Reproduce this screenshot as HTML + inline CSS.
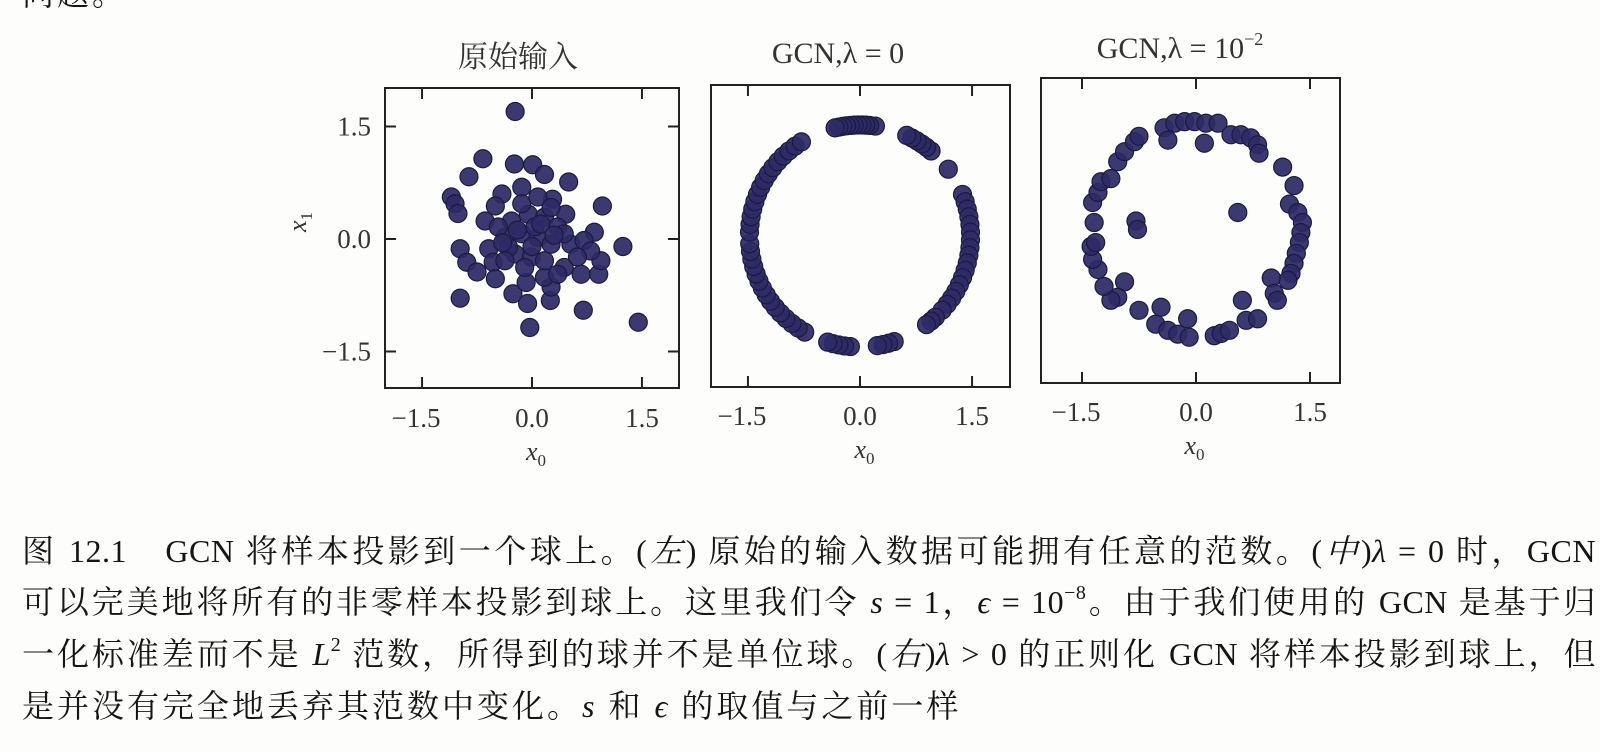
<!DOCTYPE html>
<html><head><meta charset="utf-8">
<style>
html,body{margin:0;padding:0;background:#fff;}
#wrap{position:relative;width:1600px;height:752px;overflow:hidden;background:#fdfdfc;}
svg{position:absolute;left:0;top:0;}
.cap{position:absolute;left:22px;width:1574px;font-family:"Liberation Serif","Noto Serif CJK SC",serif;font-size:32px;letter-spacing:3px;color:#151515;white-space:nowrap;line-height:40px;height:40px;}
.j{text-align:justify;text-align-last:justify;white-space:normal;letter-spacing:0.5px;}
i{font-style:italic;}
sup{font-size:20px;line-height:0;vertical-align:14px;}
</style></head>
<body>
<div id="wrap">
<div class="cap" style="top:-26px;">问题。</div>
<svg id="chart" width="1600" height="752"></svg>
<div class="cap j" style="top:531px;">图 12.1　GCN 将样本投影到一个球上。(<i>左</i>) 原始的输入数据可能拥有任意的范数。(<i>中</i>)<i>λ</i> = 0 时，GCN</div>
<div class="cap j" style="top:582px;">可以完美地将所有的非零样本投影到球上。这里我们令 <i>s</i> = 1，<i>ϵ</i> = 10<sup>−8</sup>。由于我们使用的 GCN 是基于归</div>
<div class="cap j" style="top:634px;">一化标准差而不是 <i>L</i><sup>2</sup> 范数，所得到的球并不是单位球。(<i>右</i>)<i>λ</i> &gt; 0 的正则化 GCN 将样本投影到球上，但</div>
<div class="cap" style="top:686px;">是并没有完全地丢弃其范数中变化。<i>s</i> 和 <i>ϵ</i> 的取值与之前一样</div>
</div>
<script>
// Panel 1: raw input (x0, x1)
const rawX = [-0.23,-0.67,-0.86,-1.10,-1.05,-1.01,-0.24,0.01,0.17,-0.14,0.50,0.96,-0.41,-0.50,-0.64,0.28,0.46,0.85,1.24,-0.98,-0.89,-0.75,-0.59,-0.53,-0.50,-0.26,-0.06,-0.03,-0.98,0.25,0.26,0.17,-0.08,0.44,0.67,0.91,0.94,0.70,1.45,-0.28,-0.05,0.17,0.35,-0.37,-0.14,0.08,0.26,0.53,0.71,0.80,0.62,-0.23,-0.01,-0.10,0.17,-0.32,-0.46,0.04,-0.14,0.08,0.26,0.44,-0.37,0.35,-0.20,0.12,0.30,-0.40,0.00];
const rawY = [1.70,1.07,0.83,0.56,0.47,0.34,1.00,0.99,0.86,0.69,0.76,0.44,0.60,0.44,0.24,0.53,0.33,0.09,-0.10,-0.13,-0.31,-0.44,-0.13,-0.31,-0.53,-0.73,-0.86,-1.18,-0.79,-0.82,-0.64,-0.51,-0.58,-0.38,-0.47,-0.47,-0.29,-0.95,-1.11,0.24,0.33,0.29,0.16,0.02,0.07,0.02,-0.07,-0.07,-0.02,-0.16,-0.24,-0.20,-0.24,-0.38,-0.29,-0.11,0.16,0.16,0.47,0.56,0.42,0.07,-0.29,-0.47,0.12,0.20,0.05,-0.05,-0.10];
// Panel 2: GCN lambda=0, points on sphere (angles in degrees)
const gcnAngles = [82,85,87,89,91,93,95,97,99,101,103,50,53,56,59,62,65,37,22,18,14,10,6,2,-2,-6,-10,-14,-18,-22,-26,-30,-34,-38,-42,-47,-50,-53,-72,-75,-78,-81,-95,-98,-101,-104,-107,-120,-124,-128,-132,-136,-140,-144,-148,-152,-156,-160,-164,-168,-172,-176,178,174,170,166,162,158,154,150,146,142,138,134,130,126,122];
const gcnRadius = 1.48;
// Panel 3: GCN lambda=1e-2
const regX = [-0.42,-0.28,-0.15,-0.02,0.13,0.29,-0.37,0.11,0.46,0.59,0.72,0.81,0.83,1.14,1.29,1.23,1.34,1.40,1.38,1.36,1.32,1.29,1.25,1.21,0.99,1.03,1.07,0.61,0.66,0.81,0.24,0.33,0.44,-0.46,-0.53,-0.37,-0.24,-0.09,-0.11,-0.75,-0.94,-1.03,-1.12,-1.21,-1.29,-1.36,-1.38,-1.32,-1.34,-1.36,-1.29,-1.25,-1.12,-1.03,-0.94,-0.81,-0.75,-0.79,-0.77,0.55];
const regY = [1.34,1.40,1.42,1.42,1.40,1.40,1.18,1.14,1.25,1.25,1.21,1.12,1.01,0.83,0.59,0.35,0.24,0.11,-0.02,-0.15,-0.29,-0.42,-0.55,-0.64,-0.61,-0.81,-0.90,-0.90,-1.16,-1.14,-1.36,-1.33,-1.29,-0.99,-1.21,-1.29,-1.34,-1.38,-1.14,-1.03,-0.66,-0.86,-0.90,-0.72,-0.50,-0.37,-0.20,-0.15,0.11,0.37,0.50,0.64,0.68,0.90,1.03,1.16,1.23,0.13,0.02,0.24];
const tickVals = [-1.5, 0, 1.5];
const tickLabels = ["\u22121.5", "0.0", "1.5"];

const NS = "http://www.w3.org/2000/svg";
const svg = document.getElementById('chart');
function mk(tag, attrs, parent){const e=document.createElementNS(NS,tag);for(const k in attrs)e.setAttribute(k,attrs[k]);(parent||svg).appendChild(e);return e;}

const panels = [
 {name:'raw-input', box:[385,88,679,388], x0:532, sx:73.3, y0:239, sy:75, yTicks:true, title:'原始输入', tx:518, ty:67, lblY:427, xlY:460},
 {name:'gcn-lambda-0', box:[711,85,1010,387], x0:860, sx:74.7, y0:236, sy:75, yTicks:false, title:'GCN,λ = 0', tx:838, ty:63, lblY:425, xlY:458},
 {name:'gcn-lambda-reg', box:[1041,78,1340,383], x0:1196, sx:76, y0:231, sy:77, yTicks:false, title:'GCN,λ = 10', tx:1180, ty:58, lblY:421, xlY:454}
];

panels.forEach((p,pi)=>{
  const g = mk('g',{});
  
  
  const X = v => p.x0 + v*p.sx;
  const Y = v => p.y0 - v*p.sy;
  const [l,t,r,b] = p.box;
  let xs=[], ys=[];
  if(pi===0){xs=rawX;ys=rawY;}
  else if(pi===1){gcnAngles.forEach(a=>{xs.push(gcnRadius*Math.cos(a*Math.PI/180));ys.push(gcnRadius*Math.sin(a*Math.PI/180));});}
  else {xs=regX;ys=regY;}
  xs.forEach((v,i)=>{
    const c = mk('circle',{cx:X(v),cy:Y(ys[i]),r:9,fill:'#2d2a66',stroke:'#1b1a40','stroke-width':1.2,'fill-opacity':0.93},g);
    
    
  });
  const fr = mk('rect',{x:l,y:t,width:r-l,height:b-t,fill:'none',stroke:'#222','stroke-width':2},g);
  
  
  tickVals.forEach((v,i)=>{
    mk('line',{x1:X(v),x2:X(v),y1:b,y2:b-11,stroke:'#222','stroke-width':2},g);
    mk('line',{x1:X(v),x2:X(v),y1:t,y2:t+11,stroke:'#222','stroke-width':2},g);
    const tx = mk('text',{x:X(v)+(v<0?-6:0),y:p.lblY,'text-anchor':'middle','font-family':'Liberation Serif, serif','font-size':27,fill:'#333'},g);
    tx.textContent = tickLabels[i];
    
    
    if(p.yTicks){
      mk('line',{x1:l,x2:l+11,y1:Y(v),y2:Y(v),stroke:'#222','stroke-width':2},g);
      mk('line',{x1:r,x2:r-11,y1:Y(v),y2:Y(v),stroke:'#222','stroke-width':2},g);
      const ty = mk('text',{x:l-14,y:Y(v)+9,'text-anchor':'end','font-family':'Liberation Serif, serif','font-size':27,fill:'#333'},g);
      ty.textContent = tickLabels[i];
      
      
    }
  });
  const xl = mk('text',{x:(l+r)/2+4,y:p.xlY,'text-anchor':'middle','font-family':'Liberation Serif, serif','font-size':26,'font-style':'italic',fill:'#333'},g);
  xl.innerHTML = 'x<tspan font-size="17" dy="6" font-style="normal">0</tspan>';
  
  
  const tt = mk('text',{x:p.tx,y:p.ty,'text-anchor':'middle','font-family':'Liberation Serif, Noto Serif CJK SC, serif','font-size':30,fill:'#333'},g);
  tt.textContent = p.title;
  
  
  if(pi===2){
    const sup = mk('tspan',{'font-size':18,dy:-13},tt);
    sup.textContent = '\u22122';
  }
});
const yl = mk('text',{x:0,y:0,transform:'translate(306,222) rotate(-90)','text-anchor':'middle','font-family':'Liberation Serif, serif','font-size':26,'font-style':'italic',fill:'#333'});
yl.innerHTML = 'x<tspan font-size="17" dy="6" font-style="normal">1</tspan>';


</script>
</body></html>
